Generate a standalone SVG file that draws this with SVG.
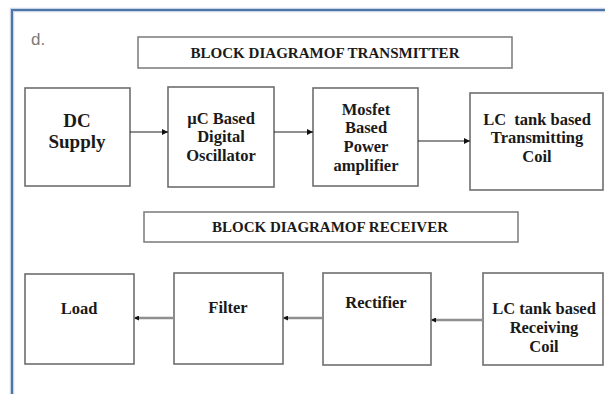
<svg xmlns="http://www.w3.org/2000/svg" width="605" height="394" viewBox="0 0 605 394">
  <style>
    .box { fill: #ffffff; stroke: #6e6e6e; stroke-width: 1.6; }
    .title { fill: #ffffff; stroke: #7a7a7a; stroke-width: 1.5; }
    .t { font-family: "Liberation Serif", "Times New Roman", serif; font-weight: bold; fill: #1a1a1a; text-anchor: middle; }
    .lbl { font-size: 16.5px; }
    .big { font-size: 19px; }
    .ttl { font-size: 14px; }
    .tx { stroke: #222; stroke-width: 1.2; fill: none; }
    .rx { stroke: #8f8f8f; stroke-width: 2.4; fill: none; }
  </style>
  <defs>
    <marker id="ah" viewBox="0 0 10 10" refX="10" refY="5" markerWidth="6" markerHeight="6" markerUnits="userSpaceOnUse" orient="auto">
      <path d="M0,0 L10,5 L0,10 z" fill="#111"/>
    </marker>
    <marker id="ah2" viewBox="0 0 10 10" refX="10" refY="5" markerWidth="5" markerHeight="5" markerUnits="userSpaceOnUse" orient="auto">
      <path d="M0,0 L10,5 L0,10 z" fill="#111"/>
    </marker>
  </defs>
  <rect x="0" y="0" width="605" height="394" fill="#ffffff"/>
  <path d="M12,400 V10 H610" fill="none" stroke="#c9d6e8" stroke-width="4.5"/>
  <path d="M12,400 V10 H610" fill="none" stroke="#4f75a8" stroke-width="2"/>
  <text x="31" y="45" font-family="Liberation Sans, Arial, sans-serif" font-size="17" fill="#7a7a7a">d.</text>

  <g id="title-tx">
    <rect class="title" x="138" y="37" width="374" height="31"/>
    <text class="t ttl" x="325" y="57.5" textLength="269" lengthAdjust="spacingAndGlyphs">BLOCK DIAGRAMOF TRANSMITTER</text>
  </g>
  <g id="dc">
    <rect class="box" x="25" y="88" width="105" height="98"/>
    <text class="t big" x="77" y="127">DC</text>
    <text class="t big" x="77" y="148">Supply</text>
  </g>
  <g id="osc">
    <rect class="box" x="168" y="87" width="106" height="100"/>
    <text class="t lbl" x="221" y="124">µC Based</text>
    <text class="t lbl" x="221" y="142">Digital</text>
    <text class="t lbl" x="221" y="161">Oscillator</text>
  </g>
  <g id="mosfet">
    <rect class="box" x="313" y="88" width="105" height="98"/>
    <text class="t lbl" x="366" y="115">Mosfet</text>
    <text class="t lbl" x="366" y="133">Based</text>
    <text class="t lbl" x="366" y="152">Power</text>
    <text class="t lbl" x="366" y="171">amplifier</text>
  </g>
  <g id="txcoil">
    <rect class="box" x="470" y="93" width="133" height="97"/>
    <text class="t lbl" x="537" y="125" style="white-space:pre">LC  tank based</text>
    <text class="t lbl" x="537" y="143">Transmitting</text>
    <text class="t lbl" x="537" y="162">Coil</text>
  </g>

  <g id="title-rx">
    <rect class="title" x="144" y="212" width="374" height="30"/>
    <text class="t ttl" x="330" y="232" textLength="236" lengthAdjust="spacingAndGlyphs">BLOCK DIAGRAMOF RECEIVER</text>
  </g>
  <g id="load">
    <rect class="box" x="25" y="274" width="109" height="90"/>
    <text class="t lbl" x="79" y="314">Load</text>
  </g>
  <g id="filter">
    <rect class="box" x="174" y="273" width="109" height="91"/>
    <text class="t lbl" x="228" y="313">Filter</text>
  </g>
  <g id="rectifier">
    <rect class="box" x="323" y="273" width="108" height="92"/>
    <text class="t lbl" x="376" y="308">Rectifier</text>
  </g>
  <g id="rxcoil">
    <rect class="box" x="483" y="273" width="120" height="92"/>
    <text class="t lbl" x="544" y="314">LC tank based</text>
    <text class="t lbl" x="544" y="333">Receiving</text>
    <text class="t lbl" x="544" y="352">Coil</text>
  </g>

  <g id="connectors">
    <line class="tx" x1="130" y1="132" x2="168" y2="132" marker-end="url(#ah)"/>
    <line class="tx" x1="274" y1="132" x2="313" y2="132" marker-end="url(#ah)"/>
    <line class="tx" x1="418" y1="141" x2="470" y2="141" marker-end="url(#ah)"/>
    <line class="rx" x1="174" y1="318" x2="134" y2="318" marker-end="url(#ah2)"/>
    <line class="rx" x1="323" y1="318" x2="283" y2="318" marker-end="url(#ah2)"/>
    <line class="rx" x1="483" y1="320" x2="431" y2="320" marker-end="url(#ah2)"/>
  </g>
</svg>
